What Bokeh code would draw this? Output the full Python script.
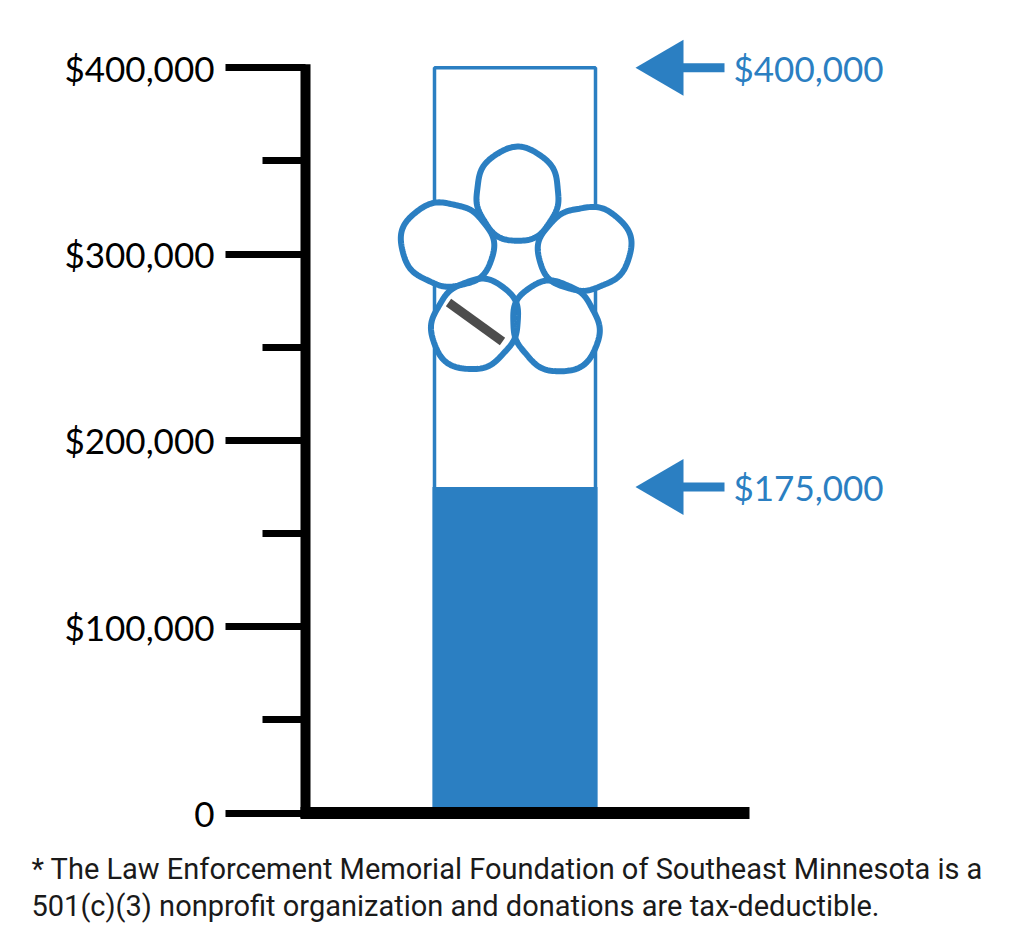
import numpy as np
from bokeh.plotting import figure
from bokeh.models import Range1d, FixedTicker, LinearAxis
from bokeh.core.properties import value
from bokeh.embed import file_html
from bokeh.resources import INLINE

# ---- data -------------------------------------------------------------
tick_values = [0, 100000, 200000, 300000, 400000]
tick_labels = ["0", "$100,000", "$200,000", "$300,000", "$400,000"]
minor_tick_values = [50000, 150000, 250000, 350000]
goal = 400000
raised = 175000
marker_values = [400000, 175000]
marker_labels = ["$400,000", "$175,000"]
footnote_lines = [
    "* The Law Enforcement Memorial Foundation of Southeast Minnesota is a",
    "501(c)(3) nonprofit organization and donations are tax-deductible.",
]

# ---- layout / style ---------------------------------------------------
W, H = 1014, 945
AXIS_X = 305          # canvas x of the vertical axis line
ZERO_Y = 812.5        # canvas y of $0
TOP_Y = 67.3          # canvas y of the goal tick
PX = (ZERO_Y - TOP_Y) / goal   # pixels per dollar

BLUE = "#2b7fc2"
GREY = "#4d4d4d"
LABEL_FONT = "Lato"
LABEL_SIZE = "35px"


def ypx(py):
    """canvas y (pixels from top) -> dollars"""
    return (ZERO_Y - py) / PX


def dpx(d):
    """pixel height -> dollars"""
    return d / PX


p = figure(
    width=W, height=H,
    x_range=Range1d(0, W), y_range=Range1d(ypx(H), ypx(0)),
    output_backend="svg", toolbar_location=None,
    x_axis_location=None, y_axis_location=None,
    min_border=0,
)
p.outline_line_color = None
p.xgrid.visible = False
p.ygrid.visible = False
p.background_fill_color = "white"
p.border_fill_color = "white"

# ---- dollar axis, pinned at AXIS_X --------------------------------------
yaxis = LinearAxis(
    fixed_location=AXIS_X,
    ticker=FixedTicker(ticks=tick_values, minor_ticks=minor_tick_values),
    major_label_overrides={v: s for v, s in zip(tick_values, tick_labels)},
    axis_line_color=None,
    major_tick_in=0, major_tick_out=80,
    minor_tick_in=0, minor_tick_out=43,
    major_tick_line_width=7, minor_tick_line_width=7,
    major_tick_line_color="black", minor_tick_line_color="black",
    major_label_standoff=11,
    major_label_text_font=LABEL_FONT,
    major_label_text_font_size=LABEL_SIZE,
    major_label_text_color="black",
)
p.add_layout(yaxis, "left")

# ---- thermometer tube -------------------------------------------------
p.quad(left=434, right=595, bottom=0, top=goal,
       fill_color=None, line_color=BLUE, line_width=3.5)
p.quad(left=432, right=597, bottom=0, top=raised,
       fill_color=BLUE, line_color=None)

# axis line and baseline
p.segment(x0=AXIS_X, y0=-dpx(5), x1=AXIS_X, y1=goal + dpx(3.5),
          line_color="black", line_width=10)
p.segment(x0=AXIS_X - 5, y0=0, x1=749, y1=0,
          line_color="black", line_width=12)

# ---- flower emblem ----------------------------------------------------
loop_centers = [(517, 196), (449, 245), (582, 249), (476, 322), (554, 324)]
flower_c = (516, 268)
t = np.linspace(0, 2 * np.pi, 161)
loop_xs, loop_ys = [], []
for cx, cy in loop_centers:
    out = np.arctan2(-(cy - flower_c[1]), cx - flower_c[0])
    a = t - out
    r = 44 * (1 + 0.07 * np.cos(2 * a) + 0.05 * np.cos(a)
              + 0.015 * np.cos(7 * a))
    loop_xs.append(list(cx + r * np.cos(t)))
    loop_ys.append(list(ypx(cy - r * np.sin(t))))
p.patches(xs=loop_xs, ys=loop_ys, fill_color="white", line_color=None)
p.multi_line(xs=loop_xs, ys=loop_ys, line_color=BLUE, line_width=6)
p.segment(x0=448, y0=ypx(302), x1=502, y1=ypx(341),
          line_color=GREY, line_width=9)

# ---- goal / raised markers --------------------------------------------
head_xs = [[635, 683, 683] for _ in marker_values]
head_ys = [[v, v + dpx(28), v - dpx(28)] for v in marker_values]
p.patches(xs=head_xs, ys=head_ys, fill_color=BLUE, line_color=None)
p.segment(x0=[680] * len(marker_values), y0=marker_values,
          x1=[724] * len(marker_values), y1=marker_values,
          line_color=BLUE, line_width=9)
p.text(x=[733] * len(marker_values), y=marker_values, text=marker_labels,
       text_baseline="middle", text_align="left",
       text_font=value(LABEL_FONT), text_font_size=LABEL_SIZE,
       text_color=BLUE)

# ---- footnote ---------------------------------------------------------
p.text(x=[31] * len(footnote_lines), y=[ypx(868), ypx(905)],
       text=footnote_lines,
       text_baseline="alphabetic", text_align="left",
       text_font=value("Roboto"), text_font_size="29px",
       text_color="#1a1a1a")

open("out.html", "w").write(file_html(p, INLINE))
